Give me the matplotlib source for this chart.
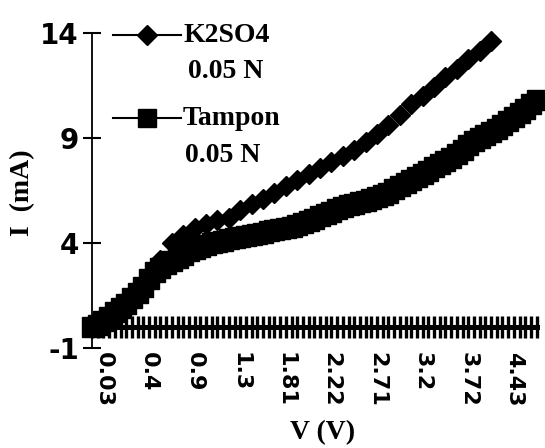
import numpy as np
import matplotlib
matplotlib.use('Agg')
import matplotlib.pyplot as plt

plt.rcParams['axes.unicode_minus'] = False

# voltage tick labels (category axis, one label every 8 categories)
v_labels = ['0.03', '0.4', '0.9', '1.3', '1.81', '2.22', '2.71', '3.2', '3.72', '4.43']
label_pos = [2, 10, 18, 26, 34, 42, 50, 58, 66, 74]
n_cat = 79

# current (mA); K2SO4 has a point on every second
# category, Tampon and the zero series on every category
i_k2so4 = [0.0, 0.5, 0.8, 1.2, 1.6, 2.3, 3.2, 4.0, 4.4, 4.7,
           4.9, 5.1, 5.2, 5.55, 5.85, 6.1, 6.4, 6.7, 7.0, 7.3,
           7.55, 7.85, 8.15, 8.45, 8.8, 9.2, 9.6, 10.1, 10.6, 11.0,
           11.45, 11.9, 12.3, 12.75, 13.15, 13.6]
i_tampon = [0.0, 0.1, 0.3, 0.5, 0.7, 0.9, 1.1, 1.4, 1.6, 1.9,
            2.3, 2.6, 2.8, 3.0, 3.15, 3.3, 3.45, 3.6, 3.7, 3.8,
            3.9, 4.0, 4.05, 4.1, 4.2, 4.25, 4.3, 4.35, 4.4, 4.45,
            4.5, 4.55, 4.6, 4.65, 4.7, 4.75, 4.85, 4.95, 5.05, 5.15,
            5.3, 5.4, 5.5, 5.6, 5.7, 5.8, 5.85, 5.95, 6.0, 6.1,
            6.2, 6.3, 6.4, 6.55, 6.7, 6.85, 7.0, 7.15, 7.3, 7.45,
            7.6, 7.75, 7.9, 8.05, 8.25, 8.45, 8.65, 8.85, 9.0, 9.15,
            9.3, 9.45, 9.6, 9.8, 10.0, 10.2, 10.4, 10.6, 10.8]
i_zero = [0.0] * n_cat

W, H = 545, 448
fig = plt.figure(figsize=(W / 100, H / 100), dpi=100)
fig.patch.set_facecolor('white')
ax = fig.add_axes([92 / W, 100 / H, 450 / W, 315 / H])

def px(x, y):
    return x / W, 1 - y / H

ax.plot(np.arange(n_cat), i_zero, color='black', lw=3.6, marker='|',
        markersize=15.5, markeredgewidth=2.4, clip_on=False, zorder=2)
ax.plot(np.arange(len(i_tampon)), i_tampon, ls='none', color='black',
        marker='s', markersize=14.5, clip_on=False, zorder=3)
ax.plot(np.arange(len(i_k2so4)) * 2, i_k2so4, ls='none', color='black',
        marker='D', markersize=10.5, clip_on=False, zorder=4)

ax.set_xlim(0, 450 / 5.7)
ax.set_ylim(-1, 14)
ax.set_yticks([-1, 4, 9, 14])
ax.set_xticks(label_pos)
ax.set_xticklabels(v_labels, rotation=270, fontsize=16, fontweight='bold')
for s in ['top', 'right', 'bottom']:
    ax.spines[s].set_visible(False)
ax.spines['left'].set_linewidth(1.3)
ax.tick_params(axis='y', direction='inout', length=13, width=1.5, pad=3,
               labelsize=20)
for t in ax.get_yticklabels():
    t.set_fontweight('bold')
ax.tick_params(axis='x', length=0, pad=3)

serif = 'Liberation Serif'
fig.text(*px(323, 433), 'V (V)', ha='center', va='center', fontsize=20,
         fontweight='bold', family=serif)
fig.text(*px(23, 193), 'I  (mA)', ha='center', va='center', rotation=90,
         fontsize=20, fontweight='bold', family=serif)

# legend drawn by hand: handle sits on the first text line
for y, mk, ms, name in [(35, 'D', 10, 'K2SO4'), (118, 's', 13, 'Tampon')]:
    x0, _ = px(113, y)
    xm, yy = px(147, y)
    x1, _ = px(181, y)
    fig.add_artist(plt.Line2D([x0, xm, x1], [yy] * 3, transform=fig.transFigure,
                              color='black', lw=1.5, marker=mk, markersize=ms,
                              markevery=[1]))
    fig.text(*px(183, y), name, ha='left', va='center', fontsize=20,
             fontweight='bold', family=serif)
fig.text(*px(226, 72), '0.05 N', ha='center', va='center', fontsize=20,
         fontweight='bold', family=serif)
fig.text(*px(223, 155), '0.05 N', ha='center', va='center', fontsize=20,
         fontweight='bold', family=serif)

plt.savefig('out.png', dpi=100, facecolor='white')
plt.close()
